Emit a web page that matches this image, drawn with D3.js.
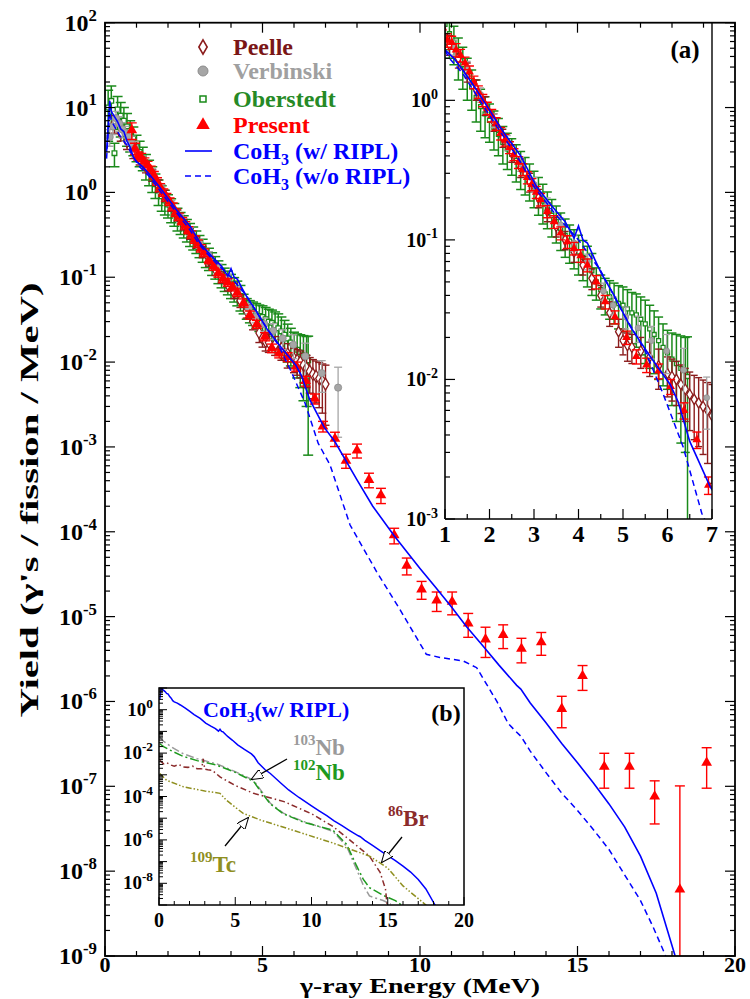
<!DOCTYPE html>
<html><head><meta charset="utf-8">
<script src="https://cdn.jsdelivr.net/npm/d3@7"></script>
<style>
body{margin:0;background:#fff}
text{font-family:"Liberation Serif","Times New Roman",serif;font-weight:bold}
</style>
</head><body><svg id="c" width="750" height="999"></svg>
<script>
// ---------------- DATA ----------------
const presentE = [0.85,0.95,1.05,1.15,1.25,1.35,1.45,1.55,1.65,1.75,1.85,1.95,2.05,2.15,2.25,2.35,2.45,2.55,2.65,2.75,2.85,2.95,3.05,3.15,3.3,3.45,3.6,3.75,3.9,4.05,4.2,4.4,4.6,4.82,5.08,5.3,5.53,5.8,6.07,6.37,6.66,6.92,7.3,7.65,8.0,8.38,8.76,9.18,9.58,10.05,10.53,11.02,11.53,12.08,12.64,13.22,13.85,14.5,15.16,15.85,16.65,17.45,18.25,19.1];
const presentY = [5.4,3.3,2.7,2.6,2.3,2.1,1.85,1.6,1.35,1.15,1.0,0.88,0.78,0.68,0.58,0.52,0.46,0.41,0.36,0.32,0.28,0.25,0.22,0.195,0.16,0.135,0.112,0.097,0.087,0.077,0.066,0.05,0.036,0.028,0.02,0.0146,0.0127,0.0115,0.0089,0.006,0.0037,0.00175,1.25e-3,6.9e-4,9.1e-4,4.1e-4,2.7e-4,9.1e-5,4e-5,2.1e-5,1.55e-5,1.5e-5,8.3e-6,5.4e-6,6.1e-6,4.2e-6,5e-6,8.2e-7,2e-6,1.7e-7,1.7e-7,7.6e-8,6.1e-9,1.9e-7];
const presentErr = [1.2,0.5,0.3,0.28,0.25,0.22,0.19,0.16,0.14,0.12,0.1,0.09,0.08,0.07,0.06,0.05,0.045,0.04,0.035,0.032,0.028,0.025,0.022,0.02,0.016,0.014,0.012,0.01,0.009,0.008,0.007,0.0055,0.004,0.003,0.0022,0.0017,0.0015,0.0014,0.0011,0.0008,0.0005,0.00025,2.4e-4,1.3e-4,1.7e-4,8e-5,5.5e-5,1.9e-5,9e-6,5e-6,4e-6,4.5e-6,2.6e-6,2.1e-6,1.9e-6,1.35e-6,1.5e-6,3.3e-7,6.5e-7,7.5e-8,7.5e-8,4e-8,9.5e-8,9.5e-8];

const oberE = [0.1,0.2,0.3,0.4,0.5,0.6,0.7,0.8,0.9,1.0,1.1,1.2,1.3,1.4,1.5,1.6,1.7,1.8,1.9,2.0,2.1,2.2,2.3,2.4,2.5,2.6,2.7,2.8,2.9,3.0,3.1,3.2,3.3,3.4,3.5,3.6,3.7,3.8,3.9,4.0,4.1,4.2,4.3,4.4,4.5,4.6,4.7,4.8,4.9,5.0,5.1,5.2,5.3,5.4,5.5,5.6,5.7,5.8,5.9,6.0,6.1,6.2,6.3,6.4,6.45];
const oberY = [10,12,2.9,9.5,8,7,6,5,4.3,3.5,3.0,2.6,2.1,1.8,1.5,1.25,1.05,0.9,0.8,0.72,0.64,0.57,0.5,0.45,0.41,0.37,0.33,0.3,0.27,0.24,0.215,0.19,0.17,0.15,0.135,0.12,0.108,0.098,0.09,0.082,0.075,0.068,0.06,0.05,0.044,0.041,0.039,0.037,0.035,0.034,0.032,0.030,0.029,0.027,0.025,0.023,0.021,0.019,0.017,0.0155,0.014,0.013,0.012,0.0115,0.0105];
const oberErr = [6,6,0.9,4,3.5,3,2.5,2,1.6,1.2,1.0,0.8,0.7,0.6,0.5,0.4,0.35,0.3,0.26,0.22,0.2,0.17,0.15,0.13,0.12,0.11,0.1,0.09,0.08,0.07,0.065,0.06,0.05,0.045,0.04,0.036,0.033,0.03,0.028,0.026,0.024,0.022,0.02,0.013,0.012,0.012,0.012,0.012,0.012,0.012,0.012,0.012,0.012,0.012,0.012,0.011,0.01,0.009,0.008,0.007,0.0075,0.008,0.0085,0.0085,0.0097];

const peelleE = [0.3,0.5,0.7,0.9,1.1,1.3,1.5,1.7,1.9,2.1,2.3,2.5,2.7,2.9,3.1,3.3,3.5,3.7,3.9,4.1,4.3,4.5,4.7,4.9,5.0,5.1,5.2,5.4,5.6,5.8,6.0,6.1,6.2,6.3,6.4,6.5,6.6,6.7,6.8,6.9,7.0];
const peelleY = [6.5,5.0,4.0,3.1,2.5,2.0,1.6,1.2,0.92,0.7,0.54,0.42,0.33,0.26,0.2,0.16,0.125,0.1,0.082,0.066,0.053,0.04,0.03,0.022,0.019,0.0175,0.017,0.016,0.0145,0.0125,0.011,0.0105,0.01,0.0092,0.0085,0.0078,0.0072,0.0068,0.0064,0.006,0.0055];
const peelleErr = [1.5,1,0.8,0.6,0.4,0.3,0.25,0.2,0.14,0.1,0.08,0.06,0.05,0.04,0.03,0.025,0.02,0.015,0.013,0.01,0.009,0.007,0.006,0.005,0.004,0.004,0.004,0.004,0.004,0.004,0.0035,0.0035,0.0035,0.0035,0.0035,0.0035,0.0035,0.0035,0.0035,0.0035,0.0037];

const verbE = [0.15,0.25,0.35,0.45,0.55,0.65,0.75,0.85,0.95,1.2,1.5,1.8,2.1,2.4,2.7,3.0,3.3,3.6,3.9,4.2,4.56,4.78,5.06,5.34,5.64,5.98,6.36,6.88,7.4];
const verbY = [4.5,6,7.5,6.5,5.5,5,4.5,3.8,3.3,2.4,1.7,1.1,0.72,0.5,0.35,0.25,0.18,0.128,0.095,0.07,0.043,0.034,0.028,0.0234,0.019,0.016,0.0117,0.0074,0.005];
const verbErr = [1,1.2,1.5,1.3,1.1,1,0.9,0.8,0.7,0.3,0.2,0.13,0.08,0.06,0.04,0.03,0.02,0.015,0.012,0.009,0.006,0.005,0.005,0.005,0.005,0.005,0.005,0.003,0.0037];

const riplE = [0.05,0.1,0.15,0.2,0.3,0.4,0.5,0.6,0.7,0.8,0.9,1.0,1.2,1.4,1.7,2.0,2.3,2.7,3.06,3.4,3.7,3.9,4.0,4.1,4.2,4.37,4.52,4.8,5.16,5.6,6.06,6.24,6.5,6.96,7.3,8.0,8.5,9.18,10.0,10.5,11.0,11.48,12.0,12.5,13.07,13.2,13.5,14.0,14.5,15.0,15.5,16.0,16.5,17.0,17.5,18.1,18.4];
const riplY = [3.0,6,12,9,7.8,6.8,5.6,5.2,4.0,3.4,2.6,2.3,2.0,1.65,1.2,0.85,0.6,0.4,0.24,0.175,0.135,0.103,0.126,0.1,0.095,0.072,0.057,0.04,0.024,0.0148,0.0092,0.0069,0.0036,0.0017,1.15e-3,4.1e-4,2.0e-4,9e-5,3.7e-5,2.2e-5,1.3e-5,7.6e-6,4.5e-6,2.7e-6,1.55e-6,1.4e-6,9.6e-7,5.6e-7,3.2e-7,1.9e-7,1.1e-7,6.2e-8,3.3e-8,1.5e-8,5.5e-9,1e-9,5e-10];

const noRipE = [0.05,0.1,0.15,0.2,0.3,0.5,0.7,0.9,1.1,1.4,2.0,2.7,3.0,3.5,4.0,4.5,5.0,5.5,5.9,6.35,6.77,7.14,7.78,8.62,9.37,10.2,10.63,11.37,11.8,12.44,12.8,13.0,13.2,13.5,14.0,14.5,15.0,15.5,16.0,16.5,17.0,17.4,17.8,18.0];
const noRipY = [2.5,5,9,7,6,4.5,3.6,2.6,2.0,1.55,0.78,0.36,0.24,0.15,0.1,0.06,0.03,0.016,0.0079,0.0033,0.0011,6.2e-4,1.2e-4,3.4e-5,1.2e-5,3.6e-6,3.3e-6,3.0e-6,2.5e-6,1.0e-6,5.5e-7,4.6e-7,3.9e-7,2.6e-7,1.45e-7,8.3e-8,5.2e-8,3.1e-8,1.8e-8,9e-9,4.5e-9,2.2e-9,1e-9,7e-10];

// inset (b) fragment spectra
const nb103E = [0.05,0.3,0.7,1.0,1.6,2.5,3.78,5.0,6.2,6.6,7.3,8.15,9.5,11.4,12.3,12.96,13.4,13.8,14.7,15.2];
const nb103Y = [0.054,0.035,0.022,0.016,0.0093,0.0055,0.0032,0.0014,5.6e-4,2.3e-4,4.9e-5,1.7e-5,7e-6,2.5e-6,5.1e-7,4.4e-8,8e-9,2.6e-9,1.6e-9,1.1e-9];
const nb102E = [0.05,0.3,0.7,1.0,1.6,2.5,3.78,5.0,6.2,6.6,7.3,8.15,9.5,11.4,12.3,12.96,13.4,13.8,14.7,15.5,16.1];
const nb102Y = [0.027,0.02,0.014,0.011,0.007,0.0045,0.0028,0.0013,5e-4,2e-4,4.5e-5,1.6e-5,6.5e-6,2.8e-6,6.3e-7,6.3e-8,1.5e-8,6.3e-9,2.8e-9,1.6e-9,8e-10];
const br86E = [0.05,0.3,0.5,0.8,1.0,1.3,1.6,1.9,2.2,2.5,2.8,2.9,3.0,3.2,3.5,4.0,5.0,6.2,8.2,10.0,11.4,12.5,13.8,14.5,14.85,14.96];
const br86Y = [4.7e-3,3.2e-3,3.6e-3,2.8e-3,2.5e-3,3.0e-3,2.3e-3,2.2e-3,2.5e-3,1.9e-3,1.9e-3,5.5e-3,1.8e-3,1.7e-3,1.6e-3,8e-4,3.2e-4,1.4e-4,5.8e-5,1.6e-5,4.2e-6,1.0e-6,1.8e-7,3.2e-8,5.4e-9,1e-9];
const tc109E = [0.05,0.5,1.6,3.0,4.0,4.4,5.5,6.6,9.0,11.4,13.8,15.0,16.0,17.55,17.8];
const tc109Y = [1.15e-3,5.6e-4,2.8e-4,1.8e-4,1.4e-4,6.9e-5,1.7e-5,8.5e-6,2.5e-6,7.2e-7,1.8e-7,5e-8,7.6e-9,9.3e-10,6e-10];

// tick labels
const mainXTicks = [0,5,10,15,20];
const mainYExp = [2,1,0,-1,-2,-3,-4,-5,-6,-7,-8,-9];
const insetAXTicks = [1,2,3,4,5,6,7];
const insetAYExp = [0,-1,-2,-3];
const insetBXTicks = [0,5,10,15,20];
const insetBYExp = [0,-2,-4,-6,-8];

// ---------------- COLORS ----------------
const C = {peelle:"#8b1c1c", verb:"#a6a6a6", ober:"#1a8a1a", pres:"#ff0000", coh:"#0000ff",
  nb103:"#9a9a9a", nb102:"#1e9a1e", br86:"#8b2b2b", tc109:"#8f8f1f"};

const svg = d3.select("#c");
const defs = svg.append("defs");

function zipp(E, Y, Er){ return E.map((e,i)=>({e:e, v:Y[i], err: Er?Er[i]:0})); }
const present = zipp(presentE, presentY, presentErr);
const ober = zipp(oberE, oberY, oberErr);
const peelle = zipp(peelleE, peelleY, peelleErr);
const verb = zipp(verbE, verbY, verbErr);
const ripl = zipp(riplE, riplY);
const noRipl = zipp(noRipE, noRipY);

// ---------------- MAIN PLOT ----------------
const M = {l:105, r:735, t:22.7, b:956};
const xM = d3.scaleLinear().domain([0,20]).range([M.l, M.r]);
const yM = d3.scaleLog().domain([1e-9,100]).range([M.b, M.t]);

defs.append("clipPath").attr("id","clipM").append("rect").attr("x",M.l).attr("y",M.t).attr("width",M.r-M.l).attr("height",M.b-M.t);

function drawData(g, x, y, s){
  function errBars(data, color, cap, sw){
    const gg = g.append("g").attr("stroke",color).attr("stroke-width",sw).attr("fill","none");
    data.forEach(d=>{
      const px = x(d.e), hi = y(d.v + d.err), lo = y(Math.max(d.v - d.err, 1e-14));
      gg.append("line").attr("x1",px).attr("x2",px).attr("y1",hi).attr("y2",lo);
      gg.append("line").attr("x1",px-cap).attr("x2",px+cap).attr("y1",hi).attr("y2",hi);
      gg.append("line").attr("x1",px-cap).attr("x2",px+cap).attr("y1",lo).attr("y2",lo);
    });
  }
  // Oberstedt
  errBars(ober, C.ober, s.cap, 1.5);
  g.append("g").selectAll("path").data(ober).join("path")
    .attr("d", d3.symbol(d3.symbolSquare, s.sq)())
    .attr("transform", d=>`translate(${x(d.e)},${y(d.v)})`)
    .attr("fill","white").attr("stroke",C.ober).attr("stroke-width",1.3);
  // Peelle
  errBars(peelle, C.peelle, s.cap-1, 1.4);
  g.append("g").selectAll("path").data(peelle).join("path")
    .attr("d", d3.symbol(d3.symbolDiamond, s.dia)())
    .attr("transform", d=>`translate(${x(d.e)},${y(d.v)})`)
    .attr("fill","white").attr("stroke",C.peelle).attr("stroke-width",1.3);
  // Verbinski
  errBars(verb, C.verb, s.cap-1, 1.3);
  g.append("g").selectAll("circle").data(verb).join("circle")
    .attr("cx", d=>x(d.e)).attr("cy", d=>y(d.v)).attr("r", s.cr)
    .attr("fill",C.verb).attr("stroke","#8c8c8c").attr("stroke-width",0.8);
  // Present
  errBars(present, C.pres, s.cap, 1.4);
  g.append("g").selectAll("path").data(present).join("path")
    .attr("d", d3.symbol(d3.symbolTriangle, s.tri)())
    .attr("transform", d=>`translate(${x(d.e)},${y(d.v)})`)
    .attr("fill",C.pres);
  // CoH3 curves
  const line = d3.line().x(d=>x(d.e)).y(d=>y(d.v));
  g.append("path").datum(noRipl).attr("d",line).attr("fill","none")
    .attr("stroke",C.coh).attr("stroke-width",1.5).attr("stroke-dasharray","6,4");
  g.append("path").datum(ripl).attr("d",line).attr("fill","none")
    .attr("stroke",C.coh).attr("stroke-width",1.6);
}

const gMain = svg.append("g").attr("clip-path","url(#clipM)");
drawData(gMain, xM, yM, {cap:5, sq:22, dia:42, cr:3.6, tri:50});

// ---------------- INSET (a) ----------------
const A = {l:445, r:712, t:22.7, b:519};
const xA = d3.scaleLinear().domain([1,7]).range([A.l, A.r]);
const yA = d3.scaleLog().domain([1e-3,3.6]).range([A.b, A.t]);
svg.append("rect").attr("x",A.l).attr("y",A.t).attr("width",A.r-A.l).attr("height",A.b-A.t).attr("fill","white");
defs.append("clipPath").attr("id","clipA").append("rect").attr("x",A.l).attr("y",A.t).attr("width",A.r-A.l).attr("height",A.b-A.t);
const gA = svg.append("g").attr("clip-path","url(#clipA)");
drawData(gA, xA, yA, {cap:4.5, sq:16, dia:32, cr:3, tri:34});

// ---------------- INSET (b) ----------------
const B = {l:159, r:464, t:688, b:905};
const xB = d3.scaleLinear().domain([0,20]).range([B.l, B.r]);
const yB = d3.scaleLog().domain([1e-9,10]).range([B.b, B.t]);
svg.append("rect").attr("x",B.l).attr("y",B.t).attr("width",B.r-B.l).attr("height",B.b-B.t).attr("fill","white");
defs.append("clipPath").attr("id","clipB").append("rect").attr("x",B.l).attr("y",B.t).attr("width",B.r-B.l).attr("height",B.b-B.t);
const gB = svg.append("g").attr("clip-path","url(#clipB)");
const lineB = d3.line().x(d=>xB(d.e)).y(d=>yB(d.v));
[[zipp(nb103E,nb103Y), C.nb103, "8,3,2,3"],
 [zipp(nb102E,nb102Y), C.nb102, "9,3,2,3"],
 [zipp(br86E,br86Y), C.br86, "6,3,1.5,3"],
 [zipp(tc109E,tc109Y), C.tc109, "6,2,1.5,2,1.5,2"]].forEach(([d,c,da])=>{
  gB.append("path").datum(d).attr("d",lineB).attr("fill","none").attr("stroke",c)
    .attr("stroke-width",1.5).attr("stroke-dasharray",da);
});
gB.append("path").datum(ripl).attr("d",lineB).attr("fill","none").attr("stroke",C.coh).attr("stroke-width",1.5);

// ---------------- AXES / TICKS ----------------
const ax = svg.append("g").attr("stroke","#000").attr("fill","none");
function L(x1,y1,x2,y2,w){ ax.append("line").attr("x1",x1).attr("y1",y1).attr("x2",x2).attr("y2",y2).attr("stroke-width",w||1.2); }
function logTickVals(lo, hi){ const out=[]; for(let d=lo; d<hi; d++){ for(let m=1;m<10;m++) out.push({v:m*Math.pow(10,d), major:m===1}); } out.push({v:Math.pow(10,hi),major:true}); return out; }

// main frame
ax.append("rect").attr("x",M.l).attr("y",M.t).attr("width",M.r-M.l).attr("height",M.b-M.t).attr("stroke-width",1.8);
logTickVals(-9,2).forEach(t=>{ const yy=yM(t.v), len=t.major?10:5; L(M.l,yy,M.l+len,yy); L(M.r,yy,M.r-len,yy); });
for(let e=0;e<=20;e++){ const xx=xM(e), len=e%5===0?10:5; L(xx,M.b,xx,M.b-len); L(xx,M.t,xx,M.t+len); }

// inset a frame
L(A.l,A.t,A.l,A.b,1.6); L(A.l,A.b,A.r,A.b,1.6); L(A.r,A.t,A.r,A.b,1.4);
logTickVals(-3,0).forEach(t=>{ const yy=yA(t.v), len=t.major?10:5; L(A.l,yy,A.l+len,yy); });
[2,3].forEach(m=>{ const yy=yA(m); L(A.l,yy,A.l+5,yy); });
for(let e=1;e<=7;e+=0.5){ const xx=xA(e), len=Number.isInteger(e)?10:5; L(xx,A.b,xx,A.b-len); }

// inset b frame
ax.append("rect").attr("x",B.l).attr("y",B.t).attr("width",B.r-B.l).attr("height",B.b-B.t).attr("stroke-width",1.5);
logTickVals(-9,1).forEach(t=>{ const yy=yB(t.v), len=t.major?8:4; L(B.l,yy,B.l+len,yy,1); });
for(let e=0;e<=20;e++){ const xx=xB(e), len=e%5===0?8:4; L(xx,B.b,xx,B.b-len,1); }

// ---------------- LABELS ----------------
function pow10(g, x, y, exp, size, anchor){
  const t = g.append("text").attr("x",x).attr("y",y).attr("font-size",size).attr("text-anchor",anchor||"end").attr("fill","#000");
  t.append("tspan").text("10");
  t.append("tspan").attr("dy",-size*0.42).attr("font-size",size*0.7).text(String(exp));
  return t;
}
const tl = svg.append("g");
mainYExp.forEach(e=>{ pow10(tl, 97, yM(Math.pow(10,e))+8, e, 24); });
mainXTicks.forEach(v=>{ tl.append("text").attr("x",xM(v)).attr("y",972).attr("text-anchor","middle").attr("font-size",22).text(v); });
insetAYExp.forEach(e=>{ pow10(tl, 438, yA(Math.pow(10,e))+7, e, 20); });
insetAXTicks.forEach(v=>{ tl.append("text").attr("x",xA(v)).attr("y",542).attr("text-anchor","middle").attr("font-size",24).text(v); });
insetBYExp.forEach(e=>{ pow10(tl, 153, yB(Math.pow(10,e))+6, e, 19); });
insetBXTicks.forEach(v=>{ tl.append("text").attr("x",xB(v)).attr("y",927).attr("text-anchor","middle").attr("font-size",20).text(v); });

// axis titles
tl.append("text").attr("x",420).attr("y",993).attr("text-anchor","middle").attr("font-size",20)
  .attr("textLength",240).attr("lengthAdjust","spacingAndGlyphs").text("γ-ray Energy (MeV)");
tl.append("text").attr("transform","translate(38,500) rotate(-90)").attr("text-anchor","middle").attr("font-size",25)
  .attr("textLength",435).attr("lengthAdjust","spacingAndGlyphs").text("Yield (γ's / fission / MeV)");

// panel labels
tl.append("text").attr("x",685).attr("y",58).attr("text-anchor","middle").attr("font-size",25).text("(a)");
tl.append("text").attr("x",446).attr("y",721).attr("text-anchor","middle").attr("font-size",24).text("(b)");

// inset b texts
const tb = tl.append("text").attr("x",203).attr("y",717).attr("font-size",22).attr("fill",C.coh);
tb.append("tspan").text("CoH");
tb.append("tspan").attr("dy",5).attr("font-size",15).text("3");
tb.append("tspan").attr("dy",-5).text("(w/ RIPL)");
function isoLabel(x, y, mass, el, color){
  const t = tl.append("text").attr("x",x).attr("y",y).attr("fill",color).attr("font-size",23);
  t.append("tspan").attr("font-size",15).attr("dy",-10).text(mass);
  t.append("tspan").attr("dy",10).text(el);
}
isoLabel(293, 755, "103", "Nb", C.nb103);
isoLabel(293, 780, "102", "Nb", C.nb102);
isoLabel(388, 826, "86", "Br", C.br86);
isoLabel(190, 872, "109", "Tc", C.tc109);

// arrows
defs.append("marker").attr("id","arr").attr("viewBox","0 0 12 10").attr("refX",11).attr("refY",5)
  .attr("markerWidth",12).attr("markerHeight",10).attr("markerUnits","userSpaceOnUse").attr("orient","auto")
  .append("path").attr("d","M0,0 L12,5 L0,10 z").attr("fill","white").attr("stroke","#000").attr("stroke-width",1);
[[287,759,252,779],[402,837,382,862],[225,846,248,818]].forEach(a=>{
  svg.append("line").attr("x1",a[0]).attr("y1",a[1]).attr("x2",a[2]).attr("y2",a[3])
    .attr("stroke","#000").attr("stroke-width",1.3).attr("marker-end","url(#arr)");
});

// ---------------- LEGEND ----------------
const lg = svg.append("g");
const legRows = [47,71,99,125,151,176];
const legX = 203, legTX = 233;
lg.append("path").attr("d",d3.symbol(d3.symbolDiamond,60)()).attr("transform",`translate(${legX},${legRows[0]})`).attr("fill","white").attr("stroke",C.peelle).attr("stroke-width",1.6);
lg.append("circle").attr("cx",legX).attr("cy",legRows[1]).attr("r",5).attr("fill",C.verb).attr("stroke","#8c8c8c");
lg.append("path").attr("d",d3.symbol(d3.symbolSquare,36)()).attr("transform",`translate(${legX},${legRows[2]})`).attr("fill","white").attr("stroke",C.ober).attr("stroke-width",1.5);
lg.append("path").attr("d",d3.symbol(d3.symbolTriangle,80)()).attr("transform",`translate(${legX},${legRows[3]})`).attr("fill",C.pres);
lg.append("line").attr("x1",185).attr("x2",212).attr("y1",legRows[4]).attr("y2",legRows[4]).attr("stroke",C.coh).attr("stroke-width",1.6);
lg.append("line").attr("x1",185).attr("x2",212).attr("y1",legRows[5]).attr("y2",legRows[5]).attr("stroke",C.coh).attr("stroke-width",1.6).attr("stroke-dasharray","6,4");
const legTexts = [["Peelle","#7a1616"],["Verbinski","#a0a0a0"],["Oberstedt","#268a26"],["Present","#ff0000"]];
legTexts.forEach((t,i)=>{ lg.append("text").attr("x",legTX).attr("y",legRows[i]+8).attr("font-size",24).attr("fill",t[1]).text(t[0]); });
["(w/ RIPL)","(w/o RIPL)"].forEach((s,i)=>{
  const t = lg.append("text").attr("x",legTX).attr("y",legRows[4+i]+8).attr("font-size",24).attr("fill",C.coh);
  t.append("tspan").text("CoH");
  t.append("tspan").attr("dy",6).attr("font-size",16).text("3");
  t.append("tspan").attr("dy",-6).text(" "+s);
});
</script>
</body></html>
